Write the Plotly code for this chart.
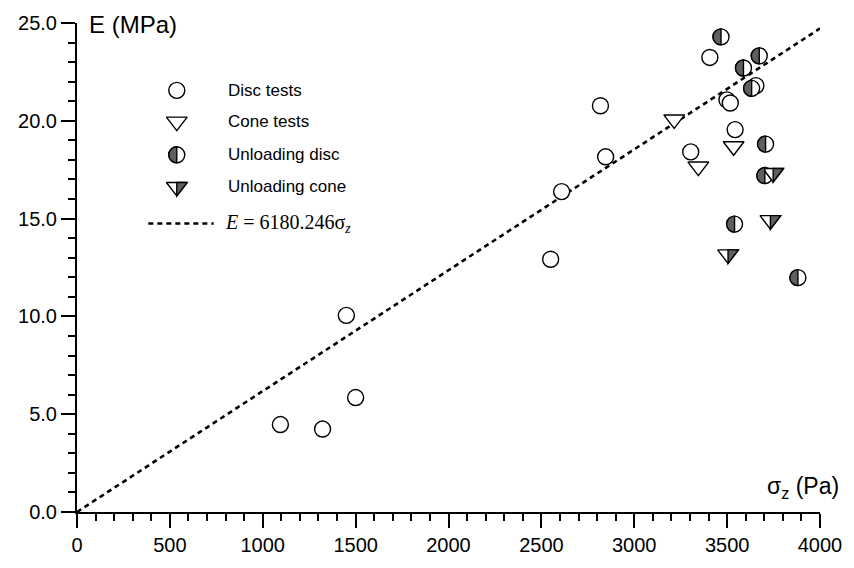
import plotly.graph_objects as go

# ---- measured data -------------------------------------------------------
disc_sigma = [1095, 1322, 1450, 1500, 2550, 2609, 2818, 2846, 3304, 3407, 3499, 3517, 3543, 3655]
disc_E = [4.47, 4.24, 10.05, 5.85, 12.92, 16.38, 20.77, 18.16, 18.41, 23.24, 21.07, 20.91, 19.55, 21.80]

cone_sigma = [3215, 3345, 3535]
cone_E = [20.07, 17.66, 18.70]

udisc_sigma = [3467, 3673, 3588, 3632, 3707, 3703, 3540, 3881]
udisc_E = [24.29, 23.32, 22.70, 21.66, 18.81, 17.20, 14.72, 11.98]

ucone_sigma = [3748, 3733, 3505]
ucone_E = [17.33, 14.92, 13.17]

fit_slope = 6180.246          # E [Pa] = slope * sigma_z [Pa]
fit_sigma = [0, 4000]

legend_labels = ["Disc tests", "Cone tests", "Unloading disc", "Unloading cone"]

# ---- style ---------------------------------------------------------------
FONT = "Liberation Sans, Arial, sans-serif"
SERIF = "Liberation Serif, Times New Roman, serif"
GREY = "#5f5f5f"
CIRCLE_SIZE = 16
TRI_SIZE = 18
EDGE = 1.4
K = 0.5523


def left_half_circle(r):
    return (f"M 0,{r} C {-K*r},{r} {-r},{K*r} {-r},0 "
            f"C {-r},{-K*r} {-K*r},{-r} 0,{-r} Z")


def right_half_tri(size):
    r = size / 2.0
    rt = r * 2 / 3 ** 0.5
    return f"M 0,{r/2} L {rt},{r/2} L 0,{-r} Z"


def half_shape(path, x, y, xref, yref):
    return dict(type="path", path=path, xref=xref, yref=yref,
                xsizemode="pixel", ysizemode="pixel", xanchor=x, yanchor=y,
                fillcolor=GREY, line=dict(color="black", width=EDGE),
                layer="above")


fig = go.Figure()

# fitted line
fig.add_trace(go.Scatter(
    x=fit_sigma, y=[fit_slope * s / 1e6 for s in fit_sigma], mode="lines",
    line=dict(color="black", width=2.6, dash="5px,4px"), showlegend=False,
    hoverinfo="skip"))

open_marker = dict(color="white", line=dict(color="black", width=EDGE))

fig.add_trace(go.Scatter(x=disc_sigma, y=disc_E, mode="markers", name=legend_labels[0],
                         marker=dict(symbol="circle", size=CIRCLE_SIZE, **open_marker)))
fig.add_trace(go.Scatter(x=cone_sigma, y=cone_E, mode="markers", name=legend_labels[1],
                         marker=dict(symbol="triangle-down", size=TRI_SIZE, **open_marker)))
fig.add_trace(go.Scatter(x=udisc_sigma, y=udisc_E, mode="markers", name=legend_labels[2],
                         marker=dict(symbol="circle", size=CIRCLE_SIZE, **open_marker)))
fig.add_trace(go.Scatter(x=ucone_sigma, y=ucone_E, mode="markers", name=legend_labels[3],
                         marker=dict(symbol="triangle-down", size=TRI_SIZE, **open_marker)))

shapes = []
for sx, ey in zip(udisc_sigma, udisc_E):
    shapes.append(half_shape(left_half_circle(CIRCLE_SIZE / 2), sx, ey, "x", "y"))
for sx, ey in zip(ucone_sigma, ucone_E):
    shapes.append(half_shape(right_half_tri(TRI_SIZE), sx, ey, "x", "y"))

# ---- hand-built key on an overlay axis (0..1 in both directions) ---------
key_x = 0.1343
key_text_x = 0.2008
key_rows = [0.8623, 0.7984, 0.7305, 0.6647]
key_symbols = ["circle", "triangle-down", "circle", "triangle-down"]
key_sizes = [CIRCLE_SIZE, TRI_SIZE, CIRCLE_SIZE, TRI_SIZE]
for sym, sz, yy in zip(key_symbols, key_sizes, key_rows):
    fig.add_trace(go.Scatter(x=[key_x], y=[yy], xaxis="x2", yaxis="y2", mode="markers",
                             marker=dict(symbol=sym, size=sz, **open_marker),
                             showlegend=False, hoverinfo="skip"))
shapes.append(half_shape(left_half_circle(CIRCLE_SIZE / 2), key_x, key_rows[2], "x2", "y2"))
shapes.append(half_shape(right_half_tri(TRI_SIZE), key_x, key_rows[3], "x2", "y2"))

line_key_y = 0.59
fig.add_trace(go.Scatter(x=[0.096, 0.184], y=[line_key_y, line_key_y], xaxis="x2", yaxis="y2",
                         mode="lines", line=dict(color="black", width=2.6, dash="5px,4px"),
                         showlegend=False, hoverinfo="skip"))

annotations = []
for lab, yy in zip(legend_labels, key_rows):
    annotations.append(dict(text=lab, x=key_text_x, y=yy, xref="paper", yref="paper",
                            xanchor="left", yanchor="middle", showarrow=False,
                            font=dict(family=FONT, size=17, color="black")))
annotations.append(dict(text="<i>E</i> = 6180.246σ<sub><i>z</i></sub>", x=0.196, y=line_key_y,
                        xref="paper", yref="paper", xanchor="left", yanchor="middle",
                        showarrow=False, font=dict(family=SERIF, size=20, color="black")))
annotations.append(dict(text="E (MPa)", x=0.0133, y=0.996, xref="paper", yref="paper",
                        xanchor="left", yanchor="middle", showarrow=False,
                        font=dict(family=FONT, size=24, color="black")))
annotations.append(dict(text="σ<sub>z</sub> (Pa)", x=1.028, y=0.016, xref="paper", yref="paper",
                        xanchor="right", yanchor="bottom", showarrow=False,
                        font=dict(family=FONT, size=23, color="black")))

axis_common = dict(showline=True, linecolor="black", linewidth=2, mirror=False,
                   showgrid=False, zeroline=False, ticks="outside", ticklen=14,
                   tickwidth=2, tickcolor="black",
                   tickfont=dict(family=FONT, size=20, color="black"))

fig.update_layout(
    width=854, height=568, margin=dict(l=77, r=25, t=23, b=44),
    paper_bgcolor="white", plot_bgcolor="white", showlegend=False,
    xaxis=dict(range=[0, 4000], dtick=500, tick0=0,
               minor=dict(dtick=100, ticks="outside", ticklen=7, tickwidth=2, tickcolor="black"),
               **axis_common),
    yaxis=dict(range=[0, 25], dtick=5, tick0=0, tickformat=".1f",
               minor=dict(dtick=1, ticks="outside", ticklen=7, tickwidth=2, tickcolor="black"),
               **axis_common),
    xaxis2=dict(range=[0, 1], overlaying="x", visible=False, fixedrange=True),
    yaxis2=dict(range=[0, 1], overlaying="y", visible=False, fixedrange=True),
    shapes=shapes, annotations=annotations,
)

fig.write_html("out.html")
